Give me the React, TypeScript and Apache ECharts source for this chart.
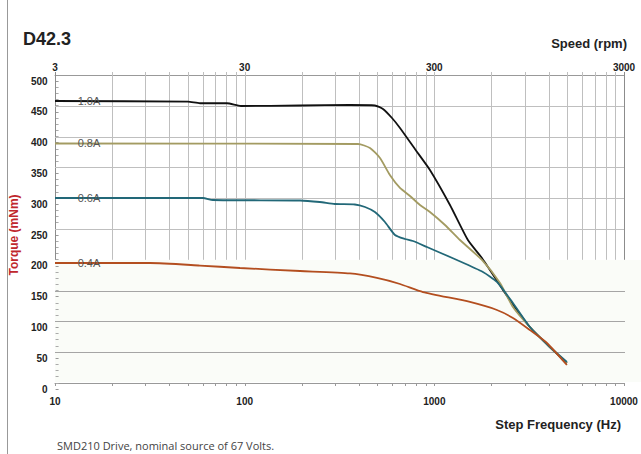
import React, { useEffect, useRef } from "react";
import * as echarts from "echarts";

// ---- data ----
const hz10 = [10, 50.2, 58.1, 80.7, 95.6, 196, 359, 486, 536, 598, 659, 790, 948, 1209, 1503, 1782, 2301, 2725, 3190, 4065, 5000];
const torque10 = [457.8, 456.7, 454.1, 454.1, 449.7, 450.5, 451.3, 450.5, 444.8, 430.2, 414.0, 379.9, 345.8, 289.0, 232.1, 202.9, 151.0, 118.5, 90.9, 58.4, 32.5];

const hz08 = [10, 396, 458, 517, 583, 659, 744, 840, 948, 1138, 1365, 1782, 2219, 2597, 3190, 4065, 5000];
const torque08 = [388.8, 388.0, 381.5, 365.3, 337.7, 316.6, 303.6, 289.0, 277.6, 256.5, 232.1, 199.7, 162.3, 123.4, 90.9, 58.4, 32.5];

const hz06 = [10, 60.3, 68, 196, 249, 299, 381, 431, 486, 549, 620, 700, 771, 914, 1315, 1804, 2138, 2597, 3190, 4065, 5000];
const torque06 = [300.3, 300.3, 297.1, 296.3, 293.8, 290.6, 289.8, 285.7, 277.6, 261.4, 240.3, 233.8, 230.5, 220.8, 199.7, 180.2, 164.0, 129.9, 90.9, 58.4, 34.1];

const hz04 = [10, 31.7, 58.1, 94.5, 196, 359, 498, 659, 871, 1541, 2138, 2597, 3190, 3924, 5000];
const torque04 = [194.8, 194.8, 190.7, 186.7, 181.8, 177.8, 170.5, 160.7, 147.7, 131.5, 118.5, 105.5, 86.0, 64.9, 29.2];

const curveNames = ["1.0A", "0.8A", "0.6A", "0.4A"];
const curveColors = ["#111111", "#a39b62", "#226878", "#b34e1f"];
const curveLabelHz = 15.1;

const topRpmLabels = [3, 30, 300, 3000];
const gridHz = [10, 20, 30, 40, 50, 60, 70, 80, 90, 100, 200, 300, 400, 500, 600, 700, 800, 900, 1000, 2000, 3000, 4000, 5000, 6000, 7000, 8000, 9000, 10000];
const upperGridTorque = [250, 300, 350, 400, 450];
const lowerGridTorque = [50, 100, 150];

const FONT = "Liberation Sans, Arial, sans-serif";

export default function App() {
  const ref = useRef<HTMLDivElement>(null);

  useEffect(() => {
    if (!ref.current) return;
    const chart = echarts.init(ref.current, null, { renderer: "svg" });

    const pairs = (xs: number[], ys: number[]) => xs.map((x, i) => [x, ys[i]]);
    const allData = [
      pairs(hz10, torque10),
      pairs(hz08, torque08),
      pairs(hz06, torque06),
      pairs(hz04, torque04),
    ];

    const lineSeries = allData.map((d, i) => ({
      type: "line",
      name: curveNames[i],
      xAxisIndex: 0,
      yAxisIndex: 0,
      data: d,
      showSymbol: false,
      smooth: 0.2,
      z: 3,
      lineStyle: { color: curveColors[i], width: 1.8 },
      itemStyle: { color: curveColors[i] },
      markPoint: {
        symbol: "rect",
        symbolSize: 0,
        silent: true,
        data: [{ name: curveNames[i], coord: [curveLabelHz, d[0][1]] }],
        label: {
          show: true,
          position: "inside",
          formatter: "{b}",
          color: "#555",
          fontSize: 11,
          fontFamily: FONT,
        },
      },
    }));

    const option: any = {
      animation: false,
      backgroundColor: "#ffffff",
      title: [
        { text: "D42.3", left: 23, top: 30, padding: 0, textStyle: { fontSize: 18, fontWeight: "bold", color: "#222", fontFamily: FONT } },
        { text: "Speed (rpm)", right: 14, top: 37, padding: 0, textStyle: { fontSize: 13, fontWeight: "bold", color: "#222", fontFamily: FONT } },
        { text: "Step Frequency (Hz)", right: 20, top: 418, padding: 0, textStyle: { fontSize: 13, fontWeight: "bold", color: "#222", fontFamily: FONT } },
        { text: "SMD210 Drive, nominal source of 67 Volts.", left: 57, top: 439, padding: 0, textStyle: { fontSize: 11, lineHeight: 13, fontWeight: "normal", color: "#444", fontFamily: "Open Sans, sans-serif" } },
      ],
      graphic: [
        { type: "line", shape: { x1: 7.5, y1: 0, x2: 7.5, y2: 454 }, style: { stroke: "#999", lineWidth: 1 }, z: 0 },
        { type: "rect", shape: { x: 55, y: 260, width: 586, height: 122 }, style: { fill: "#fafcf8" }, z: -1 },
      ],
      grid: [
        { left: 55, right: 17, top: 75, height: 308, containLabel: false },
        { left: 55, right: 17, top: 81, height: 308, containLabel: false },
      ],
      xAxis: [
        {
          gridIndex: 0,
          type: "log",
          logBase: 10,
          min: 10,
          max: 10000,
          axisLine: { show: true, lineStyle: { color: "#999", width: 1 } },
          axisTick: { show: false },
          minorTick: { show: false },
          splitLine: { show: false },
          minorSplitLine: { show: false },
          axisLabel: {
            show: true,
            margin: 13,
            fontSize: 10,
            fontWeight: "bold",
            color: "#222",
            fontFamily: FONT,
            showMinLabel: true,
            showMaxLabel: true,
            formatter: (v: number) => String(Math.round(v)),
          },
        },
        {
          gridIndex: 0,
          type: "value",
          position: "top",
          min: 0,
          max: 3,
          interval: 1,
          axisLine: { show: true, onZero: false, lineStyle: { color: "#999", width: 1 } },
          axisTick: { show: false },
          splitLine: { show: false },
          axisLabel: {
            show: true,
            margin: 3,
            fontSize: 10,
            fontWeight: "bold",
            color: "#222",
            fontFamily: FONT,
            showMinLabel: true,
            showMaxLabel: true,
            formatter: (v: number) => String(topRpmLabels[Math.round(v)]),
          },
        },
        { gridIndex: 1, type: "value", min: 0, max: 1, show: false },
      ],
      yAxis: [
        {
          gridIndex: 0,
          type: "value",
          min: 0,
          max: 500,
          interval: 50,
          axisLine: { show: false },
          axisTick: { show: false },
          axisLabel: { show: false },
          splitLine: { show: false },
        },
        {
          gridIndex: 1,
          type: "value",
          min: 0,
          max: 500,
          interval: 50,
          axisLine: { show: false },
          axisTick: { show: true, length: 3, lineStyle: { color: "#999" } },
          minorTick: { show: true, splitNumber: 5, length: 3, lineStyle: { color: "#aaa" } },
          splitLine: { show: false },
          axisLabel: { show: true, margin: 11, fontSize: 10, fontWeight: "bold", color: "#222", fontFamily: FONT },
          name: "Torque (mNm)",
          nameLocation: "middle",
          nameGap: 32,
          nameTextStyle: { color: "#c0272d", fontSize: 12, fontWeight: "bold", fontFamily: FONT },
        },
      ],
      series: [
        {
          type: "custom",
          xAxisIndex: 0,
          yAxisIndex: 0,
          silent: true,
          z: 1,
          clip: false,
          data: gridHz.map((v) => [v, 200]),
          renderItem: (_p: any, api: any) => {
            const v = api.value(0);
            const a = api.coord([v, 500]);
            const b = api.coord([v, 200]);
            const c = api.coord([v, 0]);
            const x = Math.round(a[0]) + 0.5;
            const edge = v === 10 || v === 10000;
            return {
              type: "group",
              children: [
                { type: "line", shape: { x1: x, y1: a[1] - 3, x2: x, y2: b[1] }, style: { stroke: edge ? "#8c8c8c" : "#bfbfbf", lineWidth: 1 } },
                { type: "line", shape: { x1: x, y1: c[1], x2: x, y2: c[1] + 3 }, style: { stroke: "#999", lineWidth: 1 } },
              ],
            };
          },
        },
        {
          type: "custom",
          xAxisIndex: 0,
          yAxisIndex: 0,
          silent: true,
          z: 1,
          data: upperGridTorque.map((v) => [10, v]),
          renderItem: (_p: any, api: any) => {
            const v = api.value(1);
            const a = api.coord([10, v]);
            const b = api.coord([10000, v]);
            const y = Math.round(a[1]) + 0.5;
            return { type: "line", shape: { x1: a[0], y1: y, x2: b[0], y2: y }, style: { stroke: "#bfbfbf", lineWidth: 1 } };
          },
        },
        {
          type: "custom",
          xAxisIndex: 0,
          yAxisIndex: 0,
          silent: true,
          z: 1,
          data: lowerGridTorque.map((v) => [10, v]),
          renderItem: (_p: any, api: any) => {
            const v = api.value(1);
            const a = api.coord([10, v]);
            const b = api.coord([10000, v]);
            const y = Math.round(a[1]) + 0.5;
            return { type: "line", shape: { x1: a[0], y1: y, x2: b[0] + 1, y2: y }, style: { stroke: "#a5a5a5", lineWidth: 1.2 } };
          },
        },
        ...lineSeries,
      ],
    };

    chart.setOption(option);
    return () => chart.dispose();
  }, []);

  return (
    <div
      ref={ref}
      style={{ position: "fixed", left: 0, top: 0, width: 641, height: 454, background: "#fff" }}
    />
  );
}
